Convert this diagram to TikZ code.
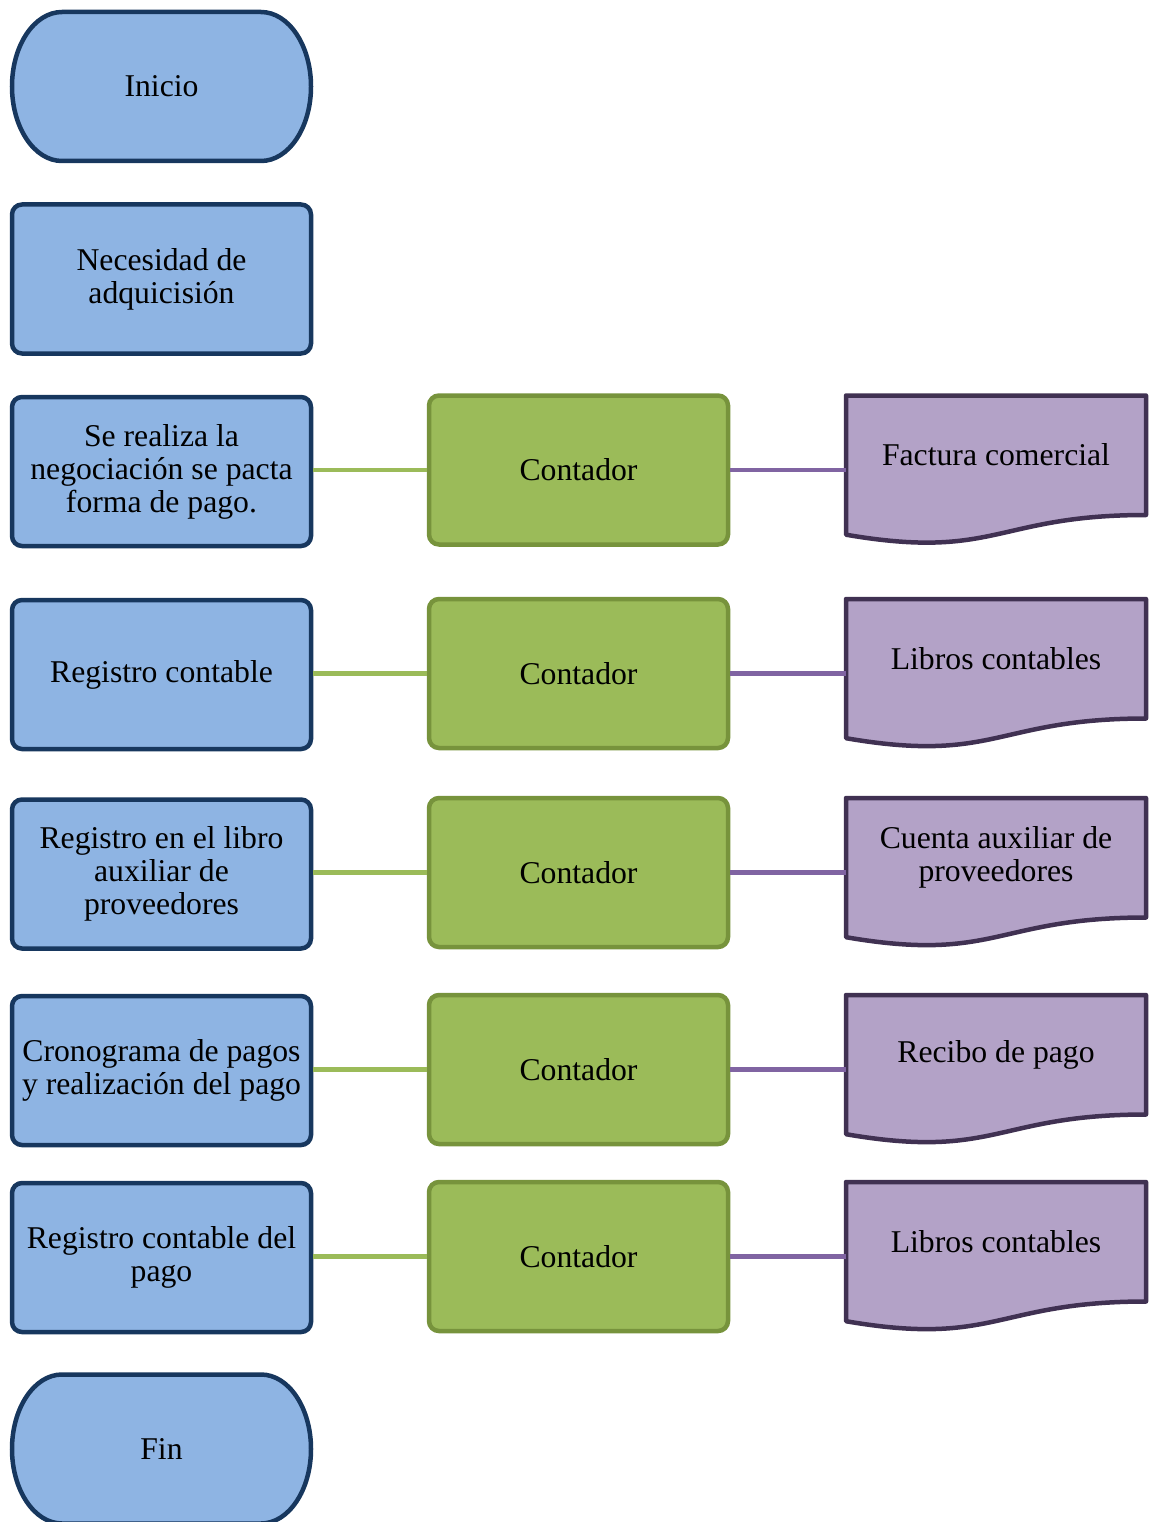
\documentclass[tikz,border=0pt]{standalone}
\usepackage{fontspec}
\setmainfont{Liberation Serif}
\usetikzlibrary{calc,backgrounds}
\definecolor{blueFill}{HTML}{8EB4E3}
\definecolor{blueLine}{HTML}{17375E}
\definecolor{greenFill}{HTML}{9BBB59}
\definecolor{greenLine}{HTML}{77933C}
\definecolor{purpleFill}{HTML}{B3A2C7}
\definecolor{purpleLine}{HTML}{403152}
\definecolor{purpleLink}{HTML}{8064A2}

% terminal (start/end) outline with elliptical ends, drawn behind its node
\newcommand\drawterm[1]{%
  \begin{scope}[on background layer]
    \draw[termline] ($(#1.north west)+(50,0)$) -- ($(#1.north east)+(-50,0)$)
      arc[start angle=90,end angle=-90,x radius=50pt,y radius=74.5pt]
      -- ($(#1.south west)+(50,0)$)
      arc[start angle=270,end angle=90,x radius=50pt,y radius=74.5pt] -- cycle;
  \end{scope}}

% document outline with a wavy lower edge, drawn behind its frame node
\newcommand\drawdoc[1]{%
  \begin{scope}[on background layer]
    \draw[docline] (#1.north west) -- (#1.north east)
      -- ($(#1.north east)+(0,119.5)$)
      .. controls ($(#1.north west)+(150,119.5)$) and ($(#1.north west)+(150,165)$)
      .. ($(#1.north west)+(0,139.2)$) -- cycle;
  \end{scope}}

\begin{document}
\begin{tikzpicture}[x=1pt,y=-1pt,
  every node/.style={font=\fontsize{31.7}{33}\selectfont, align=center, inner sep=0pt},
  boxsize/.style={minimum width=299pt, minimum height=149pt},
  stepbox/.style={boxsize, draw=blueLine, fill=blueFill, line width=4.5pt, rounded corners=10pt},
  rolebox/.style={boxsize, draw=greenLine, fill=greenFill, line width=4.5pt, rounded corners=10pt},
  termframe/.style={boxsize, outer sep=0pt},
  docframe/.style={minimum width=300pt, minimum height=149pt, outer sep=0pt},
  termline/.style={draw=blueLine, fill=blueFill, line width=4.5pt},
  docline/.style={draw=purpleLine, fill=purpleFill, line width=4.5pt, line join=round},
  greenlink/.style={draw=greenFill, line width=4.8pt},
  purplelink/.style={draw=purpleLink, line width=4.8pt}]

\useasboundingbox (0,0) rectangle (1150,1522);

% left column: process steps
\node[termframe] (inicio) at (161.5,86.5) {Inicio};
\drawterm{inicio}
\node[stepbox] (s1) at (161.5,279) {Necesidad de\\adquicisión};
\node[stepbox] (s2) at (161.5,471.5) {Se realiza la\\negociación se pacta\\forma de pago.};
\node[stepbox] (s3) at (161.5,674.5) {Registro contable};
\node[stepbox] (s4) at (161.5,874) {Registro en el libro\\auxiliar de\\proveedores};
\node[stepbox] (s5) at (161.5,1070.5) {Cronograma de pagos\\y realización del pago};
\node[stepbox] (s6) at (161.5,1257.5) {Registro contable del\\pago};
\node[termframe] (fin) at (161.5,1449) {Fin};
\drawterm{fin}

% middle column: responsible
\node[rolebox] (r2) at (578.5,470) {Contador};
\node[rolebox] (r3) at (578.5,673.5) {Contador};
\node[rolebox] (r4) at (578.5,872.5) {Contador};
\node[rolebox] (r5) at (578.5,1069.5) {Contador};
\node[rolebox] (r6) at (578.5,1256.5) {Contador};

% right column: documents
\node[docframe] (d2) at (996,470) {};
\drawdoc{d2}
\node (d2t) at ($(d2.center)+(0,-15)$) {Factura comercial};
\node[docframe] (d3) at (996,673.5) {};
\drawdoc{d3}
\node (d3t) at ($(d3.center)+(0,-15)$) {Libros contables};
\node[docframe] (d4) at (996,872.5) {};
\drawdoc{d4}
\node (d4t) at ($(d4.center)+(0,-15)$) {Cuenta auxiliar de\\proveedores};
\node[docframe] (d5) at (996,1069.5) {};
\drawdoc{d5}
\node (d5t) at ($(d5.center)+(0,-15)$) {Recibo de pago};
\node[docframe] (d6) at (996,1256.5) {};
\drawdoc{d6}
\node (d6t) at ($(d6.center)+(0,-15)$) {Libros contables};

% connectors
\foreach \i in {2,...,6} {
  \draw[greenlink] (s\i.east |- r\i.west) -- (r\i.west);
  \draw[purplelink] (r\i.east) -- (d\i.west);
}
\end{tikzpicture}
\end{document}
